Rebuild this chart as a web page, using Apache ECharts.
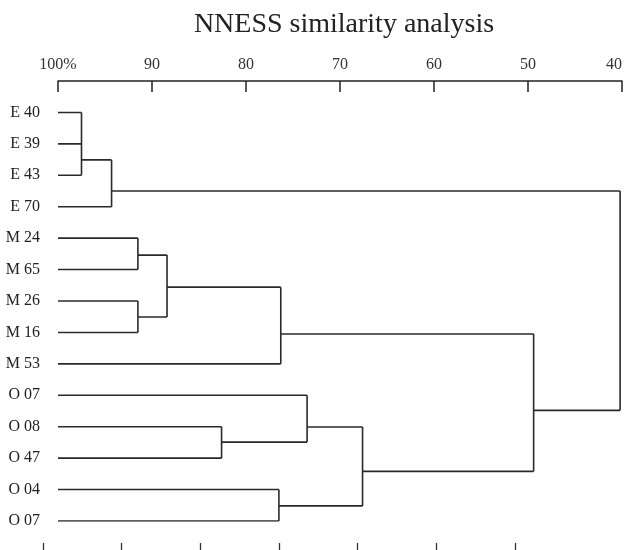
<!DOCTYPE html>
<html>
<head>
<meta charset="utf-8">
<script src="https://cdn.jsdelivr.net/npm/echarts@6/dist/echarts.min.js"></script>
<style>html,body{margin:0;padding:0;background:#fff}#c{width:627px;height:550px}</style>
</head>
<body>
<div id="c"></div>
<script>
// Leaves (top to bottom)
const leafLabels = ['E 40','E 39','E 43','E 70','M 24','M 65','M 26','M 16','M 53','O 07','O 08','O 47','O 04','O 07'];
// Internal nodes: children (numbers = leaf index, 'nK' = node K), similarity level, vertical position of outgoing branch (leaf-index units)
const nodeChildren = [[0,1,2],['n0',3],[4,5],[6,7],['n2','n3'],['n4',8],[10,11],[9,'n6'],[12,13],['n7','n8'],['n5','n9'],['n1','n10']];
const nodeSim = [97.5, 94.3, 91.5, 91.5, 88.4, 76.3, 82.6, 73.5, 76.5, 67.6, 49.4, 40.2];
const nodeY = [1.51, 2.5, 4.54, 6.51, 5.56, 7.05, 10.49, 10.01, 12.52, 11.42, 9.48, null];
// Axis tick labels
const topTicks = [100, 90, 80, 70, 60, 50, 40];
const bottomTicks = [0, 1, 2, 3, 4, 5, 6];

function pos(ref) {
  if (typeof ref === 'number') return [100, ref];
  const k = parseInt(ref.slice(1), 10);
  return [nodeSim[k], nodeY[k]];
}
const segs = [];
nodeChildren.forEach((kids, k) => {
  const x = nodeSim[k];
  const pts = kids.map(pos);
  const ys = pts.map(p => p[1]);
  pts.forEach(p => segs.push({ coords: [[p[0], p[1]], [x, p[1]]] }));
  segs.push({ coords: [[x, Math.min(...ys)], [x, Math.max(...ys)]] });
});

const chart = echarts.init(document.getElementById('c'));
const serif = '"Liberation Serif", "DejaVu Serif", serif';
chart.setOption({
  animation: false,
  title: {
    text: 'NNESS similarity analysis',
    left: 339, textAlign: 'center', top: 6,
    textStyle: { fontFamily: serif, fontSize: 28, fontWeight: 'normal', color: '#222' }
  },
  grid: [
    { left: 58, right: 5, top: 81, bottom: 29, outerBoundsMode: 'none', containLabel: false },
    { left: 43, right: 112, top: 542, height: 1, outerBoundsMode: 'none', containLabel: false }
  ],
  xAxis: [
    {
      gridIndex: 0, type: 'value', position: 'top', inverse: true,
      min: 40, max: 100, interval: 10,
      axisLine: { show: true, onZero: false, lineStyle: { color: '#222', width: 1.5 } },
      axisTick: { show: true, inside: true, length: 11, lineStyle: { color: '#222', width: 1.5 } },
      axisLabel: {
        margin: 8, fontFamily: serif, fontSize: 16, color: '#333',
        alignMinLabel: 'right',
        formatter: v => topTicks.indexOf(v) >= 0 ? (v === 100 ? '100%' : String(v)) : ''
      },
      splitLine: { show: false }
    },
    {
      gridIndex: 1, type: 'value', position: 'bottom',
      min: 0, max: 6, interval: 1,
      axisLine: { show: false, onZero: false },
      axisTick: { show: true, length: 8, lineStyle: { color: '#333', width: 1.3 } },
      axisLabel: { show: false, formatter: v => bottomTicks.indexOf(v) >= 0 ? '' : '' },
      splitLine: { show: false }
    }
  ],
  yAxis: [
    {
      gridIndex: 0, type: 'value', inverse: true, min: -1, max: 13, interval: 1,
      axisLine: { show: false, onZero: false }, axisTick: { show: false }, splitLine: { show: false },
      axisLabel: {
        margin: 18, fontFamily: serif, fontSize: 16, color: '#222',
        formatter: v => (v >= 0 && v < leafLabels.length) ? leafLabels[v] : ''
      }
    },
    {
      gridIndex: 1, type: 'value', show: false
    }
  ],
  series: [{
    type: 'lines',
    coordinateSystem: 'cartesian2d',
    xAxisIndex: 0, yAxisIndex: 0,
    polyline: true,
    silent: true,
    lineStyle: { color: '#2a2a2a', width: 1.6, opacity: 1 },
    data: segs
  }]
});
</script>
</body>
</html>
